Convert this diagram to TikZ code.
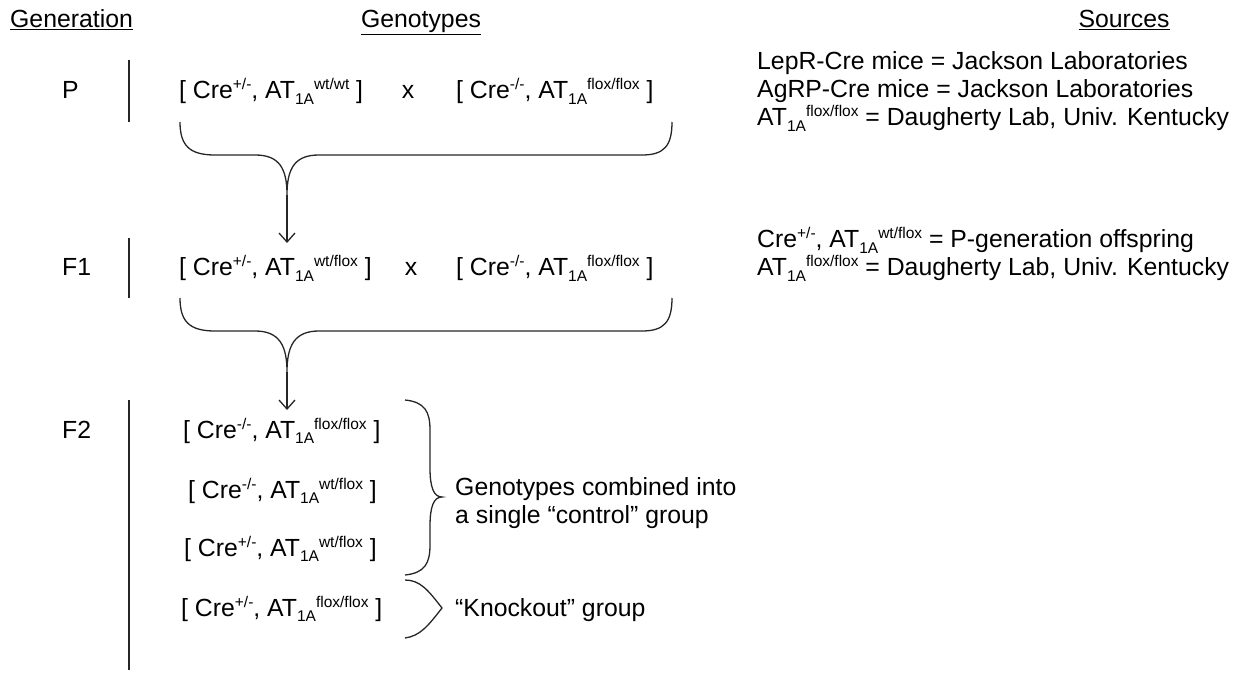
\documentclass[tikz,border=0pt]{standalone}
\usepackage{fontspec}
\setmainfont{Liberation Sans}
\usetikzlibrary{arrows.meta}
\newcommand{\supx}[1]{\raisebox{9pt}{\fontsize{15.5}{15.5}\selectfont #1}}
\newcommand{\subx}[1]{\raisebox{-5.5pt}{\fontsize{15.5}{15.5}\selectfont #1}}
\newcommand{\gt}[2]{[ Cre\supx{#1}, AT\subx{1A}\supx{#2} ]}
\begin{document}
\begin{tikzpicture}[x=1pt,y=-1pt,
  txt/.style={font=\fontsize{24.8}{29}\selectfont, inner sep=0pt, anchor=base west},
  ctxt/.style={txt, anchor=base},
  ln/.style={line width=1.3pt, black!85},
  arr/.style={ln, -{Straight Barb[length=9pt,width=16pt,line width=1.3pt]}}]
\useasboundingbox (0,0) rectangle (1234,676);
% headers
\node[txt] (hgen) at (10,28) {\underline{Generation}};
\node[ctxt] (hgeno) at (421,28) {\underline{Genotypes}};
\node[ctxt] (hsrc) at (1124,28) {\underline{Sources}};
% P row
\node[txt] (P) at (62,99) {P};
\draw[ln] (129,60) -- (129,122);
\node[txt] (p1) at (179,99) {\gt{+/-}{wt/wt}};
\node[ctxt] (px) at (408,99) {x};
\node[txt] (p2) at (456,99) {\gt{-/-}{flox/flox}};
% sources P
\node[txt] (s1) at (757,70) {LepR-Cre mice = Jackson Laboratories};
\node[txt] (s2) at (757,98) {AgRP-Cre mice = Jackson Laboratories};
\node[txt] (s3) at (757,126) {AT\subx{1A}\supx{flox/flox} = Daugherty Lab, Univ. Kentucky};
% P brace
\coordinate (tp) at (287,195);
\draw[ln] (180,122) .. controls (180,146) and (190,155) .. (215,155) -- (255,155)
  .. controls (279,155) and (287,168) .. (tp)
  .. controls (287,168) and (295,155) .. (319,155) -- (642,155)
  .. controls (664,155) and (672,146) .. (672,122);
% F1 row
\node[txt] (F1) at (62,276) {F1};
\draw[ln] (129,238) -- (129,298);
\node[txt] (f1) at (179,276) {\gt{+/-}{wt/flox}};
\node[ctxt] (fx) at (411,276) {x};
\node[txt] (f2) at (456,276) {\gt{-/-}{flox/flox}};
\coordinate (a1) at (287,243);
\draw[arr] (tp) -- (a1);
% sources F1
\node[txt] (s4) at (757,248) {Cre\supx{+/-}, AT\subx{1A}\supx{wt/flox} = P-generation offspring};
\node[txt] (s5) at (757,276) {AT\subx{1A}\supx{flox/flox} = Daugherty Lab, Univ. Kentucky};
% F1 brace
\coordinate (tf) at (287,372);
\draw[ln] (180,298) .. controls (180,322) and (190,331) .. (215,331) -- (255,331)
  .. controls (279,331) and (287,345) .. (tf)
  .. controls (287,345) and (295,331) .. (319,331) -- (642,331)
  .. controls (664,331) and (672,322) .. (672,298);
\coordinate (a2) at (287,410);
\draw[arr] (tf) -- (a2);
% F2
\node[txt] (F2) at (62,438) {F2};
\draw[ln] (129,400) -- (129,670);
\node[txt] (e1) at (183,438) {\gt{-/-}{flox/flox}};
\node[txt] (e2) at (188,498) {\gt{-/-}{wt/flox}};
\node[txt] (e3) at (184,556) {\gt{+/-}{wt/flox}};
\node[txt] (e4) at (181,616) {\gt{+/-}{flox/flox}};
% control brace
\coordinate (tc) at (442,497);
\draw[ln] (405,400) .. controls (425,402) and (430,412) .. (430,430) -- (430,468)
  .. controls (430,488) and (434,497) .. (tc)
  .. controls (434,497) and (430,506) .. (430,526) -- (430,545)
  .. controls (430,563) and (425,573) .. (405,575);
\node[txt] (c1) at (455,495) {Genotypes combined into};
\node[txt] (c2) at (455,523) {a single “control” group};
% knockout brace
\coordinate (tk) at (442,608);
\draw[ln] (405,580) .. controls (420,580) and (428,590) .. (tk)
  .. controls (428,626) and (420,636) .. (405,638);
\node[txt] (k1) at (455,616) {“Knockout” group};
\end{tikzpicture}
\end{document}
